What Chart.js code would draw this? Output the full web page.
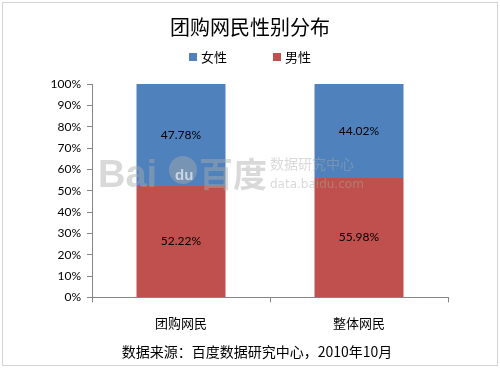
<!DOCTYPE html>
<html>
<head>
<meta charset="utf-8">
<script src="https://cdn.jsdelivr.net/npm/chart.js@4/dist/chart.umd.min.js"></script>
<style>
  html, body { margin: 0; padding: 0; background: #fff; }
  #wrap { width: 500px; height: 368px; }
</style>
</head>
<body>
<div id="wrap"><canvas id="genderChart" width="500" height="368"></canvas></div>
<script>
// 数据
const categories = ['团购网民', '整体网民'];
const femaleValues = [47.78, 44.02];
const maleValues = [52.22, 55.98];
const seriesNames = ['女性', '男性'];
const seriesColors = ['#4F81BD', '#C0504D'];
const chartTitle = '团购网民性别分布';
const sourceNote = '数据来源：百度数据研究中心，2010年10月';

const cjk = '"Noto Sans CJK SC", "Noto Sans", sans-serif';

// 背景、外框、标题和来源
const framePlugin = {
    id: 'frame',
    beforeDraw(chart) {
        const ctx = chart.ctx;
        ctx.save();
        ctx.fillStyle = '#fff';
        ctx.fillRect(0, 0, chart.width, chart.height);
        ctx.strokeStyle = '#d4d4d4';
        ctx.lineWidth = 1;
        ctx.strokeRect(2.5, 2.5, chart.width - 5, chart.height - 5);

        ctx.fillStyle = '#000';
        ctx.textAlign = 'center';
        ctx.textBaseline = 'middle';
        ctx.font = '20px ' + cjk;
        ctx.fillText(chartTitle, 250, 27);
        ctx.font = '14px ' + cjk;
        ctx.fillText(sourceNote, 257, 352);
        ctx.restore();
    }
};

// 图例：女性在前
const legendPlugin = {
    id: 'customLegend',
    afterDraw(chart) {
        const ctx = chart.ctx;
        const xs = [189, 273];
        const items = [chart.data.datasets[1], chart.data.datasets[0]];
        ctx.save();
        ctx.font = '13px ' + cjk;
        ctx.textBaseline = 'middle';
        items.forEach((ds, i) => {
            ctx.fillStyle = ds.backgroundColor;
            ctx.fillRect(xs[i], 53, 8, 8);
            ctx.fillStyle = '#000';
            ctx.fillText(ds.label, xs[i] + 12, 57);
        });
        ctx.restore();
    }
};

// 水印和数值标签
const labelPlugin = {
    id: 'valueLabels',
    afterDatasetsDraw(chart) {
        const ctx = chart.ctx;
        ctx.save();
        // 百度水印
        ctx.fillStyle = 'rgba(170,170,170,0.45)';
        ctx.textBaseline = 'alphabetic';
        ctx.font = 'bold 38px "Liberation Sans", sans-serif';
        ctx.fillText('Bai', 98, 187);
        ctx.beginPath();
        ctx.arc(183, 170, 14, 0, Math.PI * 2);
        ctx.fill();
        ctx.font = 'bold 34px ' + cjk;
        ctx.fillText('百度', 199, 187);
        ctx.font = '14px ' + cjk;
        ctx.fillText('数据研究中心', 270, 169);
        ctx.font = '12px "DejaVu Sans", sans-serif';
        ctx.fillText('data.baidu.com', 270, 188);
        ctx.fillStyle = 'rgba(255,255,255,0.6)';
        ctx.font = 'bold 15px "Liberation Sans", sans-serif';
        ctx.fillText('du', 175, 180);

        ctx.fillStyle = '#000';
        ctx.font = '12px Lato, "Liberation Sans", sans-serif';
        ctx.textAlign = 'center';
        ctx.textBaseline = 'middle';
        chart.data.datasets.forEach((ds, i) => {
            chart.getDatasetMeta(i).data.forEach((bar, j) => {
                const y = (bar.y + bar.base) / 2;
                ctx.fillText(ds.data[j].toFixed(2) + '%', bar.x, y);
            });
        });
        ctx.restore();
    }
};

new Chart(document.getElementById('genderChart'), {
    type: 'bar',
    data: {
        labels: categories,
        datasets: [
            { label: seriesNames[1], data: maleValues, backgroundColor: seriesColors[1] },
            { label: seriesNames[0], data: femaleValues, backgroundColor: seriesColors[0] }
        ]
    },
    options: {
        responsive: false,
        animation: false,
        events: [],
        layout: { padding: { left: 0, right: 52, top: 84, bottom: 24 } },
        datasets: { bar: { categoryPercentage: 1, barPercentage: 0.5 } },
        plugins: {
            legend: { display: false },
            tooltip: { enabled: false },
            title: { display: false }
        },
        scales: {
            x: {
                stacked: true,
                grid: { drawOnChartArea: false, drawTicks: true, tickLength: 5, color: '#868686' },
                border: { color: '#868686' },
                ticks: { color: '#000', font: { family: cjk, size: 13 }, padding: 13 }
            },
            y: {
                stacked: true,
                min: 0,
                max: 100,
                afterFit: (scale) => { scale.width = 92; },
                grid: { drawOnChartArea: false, drawTicks: true, tickLength: 5, color: '#868686' },
                border: { color: '#868686' },
                ticks: {
                    stepSize: 10,
                    color: '#000',
                    padding: 6,
                    font: { family: 'Lato, "Liberation Sans", sans-serif', size: 12 },
                    callback: (v) => v + '%'
                }
            }
        }
    },
    plugins: [framePlugin, labelPlugin, legendPlugin]
});
</script>
</body>
</html>
